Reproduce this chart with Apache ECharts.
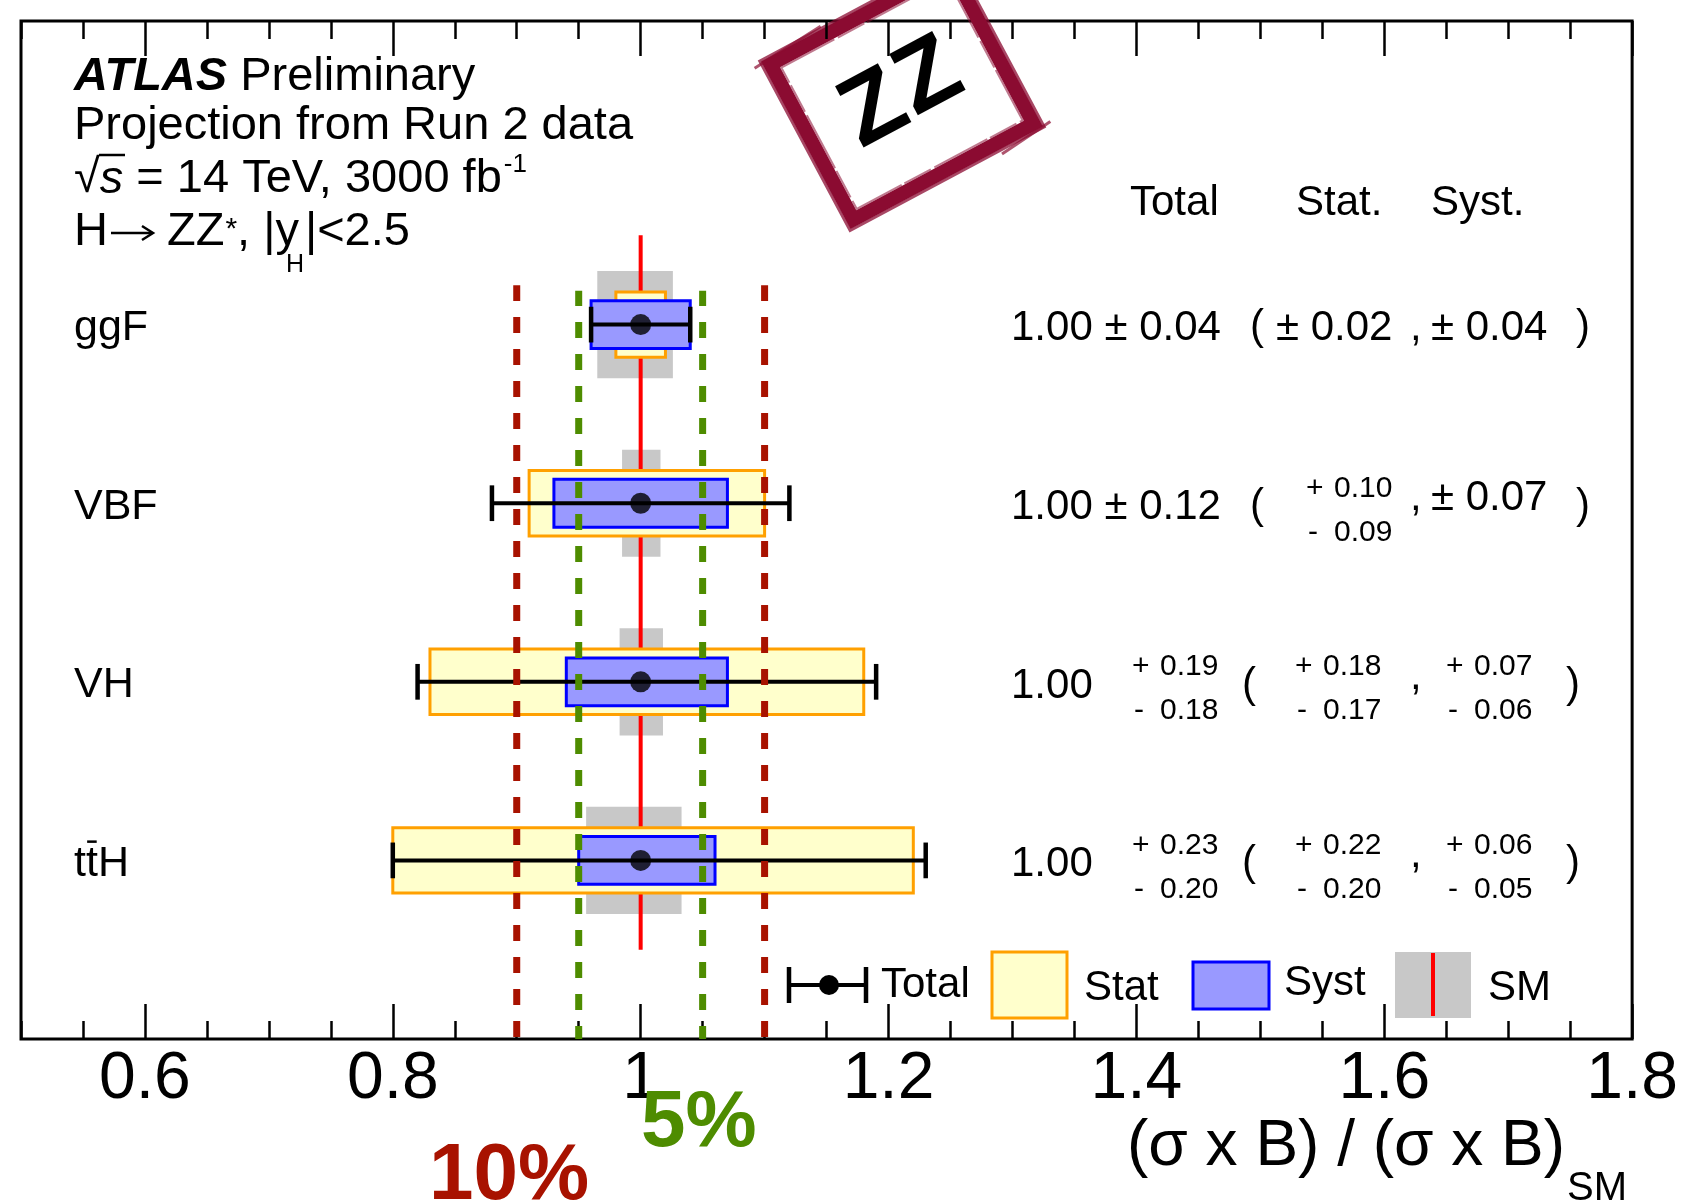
<!DOCTYPE html>
<html>
<head>
<meta charset="utf-8">
<script src="https://cdn.jsdelivr.net/npm/echarts@6/dist/echarts.min.js"></script>
<style>
  html, body { margin: 0; padding: 0; background: #fff; }
  #chart { width: 1681px; height: 1203px; }
</style>
</head>
<body>
<div id="chart"></div>
<script>
// Production modes and their fitted signal strengths (projection, 3000 fb-1)
const categories = ['ggF', 'VBF', 'VH', 'tt\u0304H'];
const rowPos     = [4, 3, 2, 1];
const central    = [1.00, 1.00, 1.00, 1.00];
const totalUp    = [0.04, 0.12, 0.19, 0.23];
const totalDown  = [0.04, 0.12, 0.18, 0.20];
const statUp     = [0.02, 0.10, 0.18, 0.22];
const statDown   = [0.02, 0.09, 0.17, 0.20];
const systUp     = [0.04, 0.07, 0.07, 0.06];
const systDown   = [0.04, 0.07, 0.06, 0.05];
// theory (SM) uncertainty band around the prediction
const smValue    = 1.0;
const smUp       = [0.026, 0.016, 0.018, 0.033];
const smDown     = [0.035, 0.015, 0.017, 0.044];
// axis tick labels and precision guide lines
const xTickLabels = [0.6, 0.8, 1.0, 1.2, 1.4, 1.6, 1.8];
const band10 = [0.9, 1.1];
const band5  = [0.95, 1.05];

const FONT = '"Liberation Sans", Arial, Helvetica, sans-serif';
const MID = 0.33;             // canvas 'middle' baseline offset, in em
const RED10 = '#a81200';
const GREEN5 = '#4e8c00';
const YELLOW = '#ffffcc', ORANGE = '#ffa000';
const LBLUE = '#9999ff', BLUE = '#0000ff';
const GREY = '#c8c8c8';
const STAMP = '#8b0b31';

const fmt = v => v.toFixed(2);

function textEl(s, x, base, fs, extra) {
  return {
    type: 'text', x: x, y: base - MID * fs, silent: true,
    style: Object.assign({
      text: s, fontSize: fs, fontFamily: FONT, fill: '#000',
      align: 'left', verticalAlign: 'middle'
    }, extra || {})
  };
}

const measureCtx = document.createElement('canvas').getContext('2d');
function textWidth(s, fs, extra) {
  const e = extra || {};
  measureCtx.font = (e.fontStyle || '') + ' ' + (e.fontWeight || '') + ' ' + fs + 'px ' + FONT;
  return measureCtx.measureText(s).width;
}

// lays out text pieces one after another on a common baseline
function chain(pieces, x, base) {
  const out = [];
  let cx = x;
  pieces.forEach(p => {
    cx += p.dx || 0;
    if (p.s) {
      out.push(textEl(p.s, cx, base + (p.dy || 0), p.fs, p.style));
      cx += p.back ? 0 : textWidth(p.s, p.fs, p.style);
    }
  });
  return out;
}

// row label; a combining macron is drawn as a bar over the preceding letter
function labelEls(name, x, base, fs) {
  const k = name.indexOf('\u0304');
  if (k < 0) return [textEl(name, x, base, fs)];
  const plain = name.replace('\u0304', '');
  const x0 = x + textWidth(plain.slice(0, k - 1), fs);
  const w = textWidth(plain.charAt(k - 1), fs);
  const yb = base - 0.855 * fs;
  return [
    textEl(plain, x, base, fs),
    { type: 'line', silent: true,
      shape: { x1: x0 + 0.1 * w, y1: yb, x2: x0 + 0.9 * w, y2: yb },
      style: { stroke: '#000', lineWidth: 2.5 } }
  ];
}

const points = rowPos.map((r, i) => [central[i], r]);

function boxSeries(name, lo, hi, half, fill, stroke, lw, z) {
  return {
    type: 'custom', name: name, z: z, silent: true,
    data: points,
    renderItem: function (params, api) {
      const i = params.dataIndex;
      const p0 = api.coord([central[i] - lo[i], rowPos[i] + half]);
      const p1 = api.coord([central[i] + hi[i], rowPos[i] - half]);
      return {
        type: 'rect',
        shape: { x: p0[0], y: p0[1], width: p1[0] - p0[0], height: p1[1] - p0[1] },
        style: { fill: fill, stroke: stroke, lineWidth: lw }
      };
    }
  };
}

function guideLine(x, top, color, offset) {
  return {
    type: 'line', silent: true, z: 20, symbol: 'none',
    data: [[x, 0], [x, top]],
    lineStyle: { color: color, width: 7, type: [16, 16], dashOffset: offset, cap: 'butt' }
  };
}

// numeric summary to the right of each row, built from the same arrays
function tableItem(params, api) {
  const i = params.dataIndex;
  const Y = api.coord([central[i], rowPos[i]])[1];
  const B = Y + 18;
  const BIG = 42, SMALL = 30;
  const kids = [];
  const symTot = totalUp[i] === totalDown[i];
  const symStat = statUp[i] === statDown[i];
  const symSyst = systUp[i] === systDown[i];
  const raised = !(symStat && symSyst);
  function stack(x, up, dn) {
    kids.push(textEl('+', x, B - 23, SMALL));
    kids.push(textEl(fmt(up), x + 28, B - 23, SMALL));
    kids.push(textEl('-', x + 2, B + 21, SMALL));
    kids.push(textEl(fmt(dn), x + 28, B + 21, SMALL));
  }
  labelEls(categories[i], 74, B, 43).forEach(e => kids.push(e));

  const cv = fmt(central[i]);
  if (symTot) {
    kids.push(textEl(cv + ' \u00b1 ' + fmt(totalUp[i]), 1011, B, BIG));
  } else {
    kids.push(textEl(cv, 1011, B, BIG));
    stack(1132, totalUp[i], totalDown[i]);
  }
  kids.push(textEl('(', symTot ? 1250 : 1242, B - 1, BIG));
  if (symStat) kids.push(textEl('\u00b1 ' + fmt(statUp[i]), 1276, raised ? B - 9 : B, BIG));
  else stack(symTot ? 1306 : 1295, statUp[i], statDown[i]);
  kids.push(textEl(',', 1410, raised ? B - 9 : B, BIG));
  if (symSyst) kids.push(textEl('\u00b1 ' + fmt(systUp[i]), 1431, raised ? B - 9 : B, BIG));
  else stack(1446, systUp[i], systDown[i]);
  kids.push(textEl(')', symSyst ? 1576 : 1566, B - 1, BIG));
  return { type: 'group', children: kids };
}

const minorAxis = (pos) => ({
  type: 'value', position: pos, min: 0.5, max: 1.8, interval: 0.05,
  axisLine: { show: false }, splitLine: { show: false },
  axisLabel: { show: false },
  axisTick: { show: true, inside: true, length: 18, lineStyle: { color: '#000', width: 2.5 } }
});
const majorAxis = (pos, labels) => ({
  type: 'value', position: pos, min: 0.5, max: 1.8,
  axisLine: { show: false }, splitLine: { show: false },
  axisTick: { show: true, inside: true, length: 35, customValues: xTickLabels,
              lineStyle: { color: '#000', width: 2.5 } },
  axisLabel: labels ? {
    show: true, customValues: xTickLabels, margin: 8,
    fontSize: 66, fontFamily: FONT, color: '#000',
    formatter: v => String(v)
  } : { show: false }
});

const G = (el) => Object.assign({ z: 50 }, el);
const TF = 47;   // size of the header block text

const headerLines = [].concat(
  chain([
    { s: 'ATLAS', fs: TF, style: { fontWeight: 'bold', fontStyle: 'italic' } },
    { s: ' Preliminary', fs: TF }
  ], 74, 93),
  chain([{ s: 'Projection from Run 2 data', fs: TF }], 74, 142),
  chain([
    { s: '\u221a', fs: TF },
    { s: 's', fs: TF, style: { fontStyle: 'italic' } },
    { s: ' = 14 TeV, 3000 fb', fs: TF },
    { s: '-1', fs: 26, dy: -22, dx: 2 }
  ], 74, 195),
  chain([{ s: 'H', fs: TF }], 74, 248),
  chain([
    { s: 'ZZ', fs: TF },
    { s: '*', fs: 30, dy: -8, dx: 1 },
    { s: ', |y', fs: TF },
    { s: 'H', fs: 25, dy: 25, dx: -13, back: true },
    { s: '|<2.5', fs: TF, dx: 19 }
  ], 167, 248)
);

const graphics = headerLines.map(G).concat([
  // bar of the square root over the s
  G({ type: 'line', silent: true, shape: { x1: 99, y1: 155, x2: 125, y2: 155 },
      style: { stroke: '#000', lineWidth: 2.5 } }),
  // decay arrow
  G({ type: 'polyline', silent: true, shape: { points: [[111, 233], [152, 233]] },
      style: { stroke: '#000', lineWidth: 2.5, fill: null } }),
  G({ type: 'polyline', silent: true, shape: { points: [[142, 226], [153, 233], [142, 240]] },
      style: { stroke: '#000', lineWidth: 2.5, fill: null } }),
  // column headers
  G(textEl('Total', 1130, 217, 42)),
  G(textEl('Stat.', 1296, 217, 42)),
  G(textEl('Syst.', 1431, 217, 42)),
  // legend
  G({ type: 'line', silent: true, shape: { x1: 789, y1: 985, x2: 866, y2: 985 }, style: { stroke: '#000', lineWidth: 4 } }),
  G({ type: 'line', silent: true, shape: { x1: 789, y1: 967, x2: 789, y2: 1003 }, style: { stroke: '#000', lineWidth: 4.5 } }),
  G({ type: 'line', silent: true, shape: { x1: 866, y1: 967, x2: 866, y2: 1003 }, style: { stroke: '#000', lineWidth: 4.5 } }),
  G({ type: 'circle', silent: true, shape: { cx: 829, cy: 985, r: 10 }, style: { fill: '#000' } }),
  G(textEl('Total', 881, 999, 42)),
  G({ type: 'rect', silent: true, shape: { x: 992, y: 952, width: 75, height: 66 }, style: { fill: YELLOW, stroke: ORANGE, lineWidth: 3 } }),
  G(textEl('Stat', 1084, 1002, 42)),
  G({ type: 'rect', silent: true, shape: { x: 1193, y: 962, width: 76, height: 47 }, style: { fill: LBLUE, stroke: BLUE, lineWidth: 3 } }),
  G(textEl('Syst', 1284, 997, 42)),
  G({ type: 'rect', silent: true, shape: { x: 1395, y: 952, width: 76, height: 66 }, style: { fill: GREY } }),
  G({ type: 'line', silent: true, shape: { x1: 1433, y1: 953, x2: 1433, y2: 1016 }, style: { stroke: '#ff0000', lineWidth: 4 } }),
  G(textEl('SM', 1488, 1002, 42)),
  // axis title
  G(textEl('(\u03c3 x B) / (\u03c3 x B)', 1127, 1168, 64)),
  G(textEl('SM', 1567, 1202, 40)),
  // precision guide annotations
  G(textEl('5%', 641, 1150, 80, { fontWeight: 'bold', fill: GREEN5 })),
  G(textEl('10%', 429, 1203, 80, { fontWeight: 'bold', fill: RED10 })),
  // decay-channel stamp
  {
    type: 'group', x: 902, y: 94, rotation: 0.49, z: 120, silent: true,
    children: [
      { type: 'rect', shape: { x: -102, y: -88, width: 204, height: 176 },
        style: { fill: 'none', stroke: STAMP, lineWidth: 14 } },
      { type: 'rect', shape: { x: -110, y: -96, width: 220, height: 192 },
        style: { fill: 'none', stroke: STAMP, lineWidth: 3, opacity: 0.75 } },
      { type: 'rect', shape: { x: -94, y: -80, width: 188, height: 160 },
        style: { fill: 'none', stroke: STAMP, lineWidth: 2, lineDash: [60, 4, 30, 3], opacity: 0.55 } },
      { type: 'line', shape: { x1: -118, y1: -92, x2: -40, y2: -98 },
        style: { stroke: STAMP, lineWidth: 3, opacity: 0.7 } },
      { type: 'line', shape: { x1: 60, y1: 100, x2: 118, y2: 94 },
        style: { stroke: STAMP, lineWidth: 3, opacity: 0.7 } },
      { type: 'text', x: -32, y: 2,
        style: { text: 'Z', fontSize: 98, fontWeight: 'bold', fontFamily: FONT, fill: '#000', align: 'center', verticalAlign: 'middle' } },
      { type: 'text', x: 31, y: -1,
        style: { text: 'Z', fontSize: 98, fontWeight: 'bold', fontFamily: FONT, fill: '#000', align: 'center', verticalAlign: 'middle' } }
    ]
  }
]);

const chart = echarts.init(document.getElementById('chart'), null, { renderer: 'canvas' });
chart.setOption({
  animation: false,
  backgroundColor: '#fff',
  grid: { left: 21, right: 47, top: 21, bottom: 164, show: true,
          borderColor: '#000', borderWidth: 3, backgroundColor: 'transparent' },
  xAxis: [majorAxis('bottom', true), minorAxis('bottom'), majorAxis('top', false), minorAxis('top')],
  yAxis: [{ type: 'value', min: 0, max: 5.7, show: false }],
  graphic: graphics,
  series: [
    boxSeries('SM band', smDown, smUp, 0.3, GREY, null, 0, 3),
    { type: 'line', name: 'SM', silent: true, z: 4, symbol: 'none',
      data: [[smValue, 0.5], [smValue, 4.5]],
      lineStyle: { color: '#ff0000', width: 4 } },
    boxSeries('Stat', statDown, statUp, 0.183, YELLOW, ORANGE, 3, 5),
    boxSeries('Syst', systDown, systUp, 0.134, LBLUE, BLUE, 3, 6),
    {
      type: 'custom', name: 'Total', z: 7, silent: true, data: points,
      renderItem: function (params, api) {
        const i = params.dataIndex;
        const l = api.coord([central[i] - totalDown[i], rowPos[i]]);
        const r = api.coord([central[i] + totalUp[i], rowPos[i]]);
        const cap = api.size([0, 0.1])[1];
        const st = { stroke: '#000', lineWidth: 4.5 };
        return { type: 'group', children: [
          { type: 'line', shape: { x1: l[0], y1: l[1], x2: r[0], y2: r[1] }, style: { stroke: '#000', lineWidth: 4 } },
          { type: 'line', shape: { x1: l[0], y1: l[1] - cap, x2: l[0], y2: l[1] + cap }, style: st },
          { type: 'line', shape: { x1: r[0], y1: r[1] - cap, x2: r[0], y2: r[1] + cap }, style: st }
        ] };
      }
    },
    { type: 'scatter', name: 'central', z: 8, silent: true, data: points,
      symbol: 'circle', symbolSize: 21, itemStyle: { color: '#000' } },
    guideLine(band10[0], 4.22, RED10, 30),
    guideLine(band10[1], 4.22, RED10, 30),
    guideLine(band5[0], 4.19, GREEN5, 3),
    guideLine(band5[1], 4.19, GREEN5, 3),
    { type: 'custom', name: 'summary', z: 30, silent: true, data: points, renderItem: tableItem }
  ]
});
</script>
</body>
</html>
